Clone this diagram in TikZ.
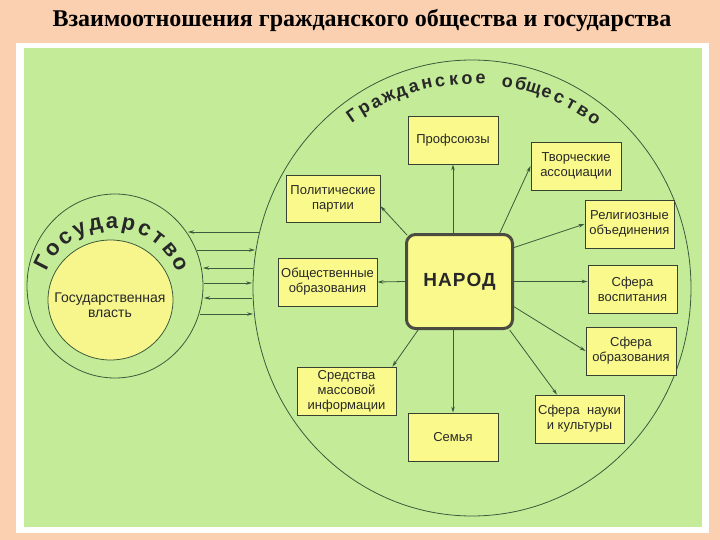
\documentclass[tikz,border=0pt]{standalone}
\usepackage{fontspec}
\setmainfont{Liberation Sans}
\newfontfamily\titlefont{Liberation Serif}
\usetikzlibrary{arrows.meta,calc,shapes.geometric}
\definecolor{peach}{RGB}{250,208,176}
\definecolor{bggreen}{RGB}{196,236,152}
\definecolor{boxyellow}{RGB}{250,250,140}
\definecolor{circyellow}{RGB}{246,246,140}
\definecolor{lineclr}{RGB}{60,90,60}
\definecolor{boxline}{RGB}{55,65,50}
\definecolor{txt}{RGB}{40,40,40}
\definecolor{narodline}{RGB}{75,75,65}
\tikzset{
  box/.style={draw=boxline, line width=0.9pt, fill=boxyellow, minimum width=90pt,
    minimum height=48pt, inner sep=0pt, align=center, text=txt,
    font=\fontsize{13}{15}\selectfont},
  narodbox/.style={draw=narodline, line width=3pt, rounded corners=9pt, fill=boxyellow,
    minimum width=106pt, minimum height=94pt, inner sep=0pt, text=txt,
    font=\bfseries\fontsize{19}{20}\selectfont\addfontfeature{LetterSpace=6}},
  arr/.style={draw=lineclr, line width=0.8pt, -{Stealth[length=6pt,width=3.5pt]}},
  circ/.style={draw=lineclr, line width=0.8pt, ellipse, inner sep=0pt},
  arcA/.style={font=\bfseries\fontsize{18}{18}\selectfont, text=txt, anchor=base, inner sep=0pt},
  arcB/.style={font=\bfseries\fontsize{22}{22}\selectfont, text=txt, anchor=base, inner sep=0pt},
}
\begin{document}
\begin{tikzpicture}[x=1pt,y=-1pt]
\useasboundingbox (0,0) rectangle (720,540);
\fill[peach] (0,0) rectangle (720,540);
\fill[white] (16,43) rectangle (709,533);
\fill[bggreen] (24,48) rectangle (702,527);

\node[font=\titlefont\bfseries\fontsize{24}{30}\selectfont, text=black] (title) at (362,21)
  {Взаимоотношения гражданского общества и государства};

% circles
\node[circ, minimum width=438pt, minimum height=456pt] (society) at (472,288) {};
\node[circ, minimum width=176pt, minimum height=184pt] (state) at (115,286) {};
\node[circ, fill=circyellow, minimum width=125pt, minimum height=120pt] (power) at (110.5,300) {};
\node[align=center, text=txt, font=\fontsize{14}{15}\selectfont] (powertext) at (110,305)
  {Государственная\\власть};

% arc texts
\foreach \ch [count=\i from 0] in {Г,р,а,ж,д,а,н,с,к,о,е}{
  \pgfmathsetmacro\ang{124.7-\i*3.705}
  \node[arcA, rotate=\ang-90] at ({472+204*cos(\ang)},{288-204*sin(\ang)}) {\ch};
}
\foreach \ch [count=\i from 12] in {о,б,щ,е,с,т,в,о}{
  \pgfmathsetmacro\ang{124.7-\i*3.705}
  \node[arcA, rotate=\ang-90] at ({472+204*cos(\ang)},{288-204*sin(\ang)}) {\ch};
}
\foreach \ch [count=\i from 0] in {Г,о,с,у,д,а,р,с,т,в,о}{
  \pgfmathsetmacro\ang{153-\i*12.6}
  \node[arcB, rotate=\ang-90] at ({112+70*cos(\ang)},{298-70*sin(\ang)}) {\ch};
}

% boxes
\node[box] (prof) at (453,140) {Профсоюзы};
\node[box] (tvor) at (576,166) {Творческие\\ассоциации};
\node[box, minimum width=94pt, minimum height=47pt] (pol) at (333,198.5) {Политические\\партии};
\node[box, minimum width=89pt] (rel) at (629.5,224) {Религиозные\\объединения};
\node[box, minimum width=99pt] (obsh) at (327.5,282) {Общественные\\образования};
\node[narodbox] (narod) at (459.5,281.5) {НАРОД};
\node[box, minimum width=89pt] (vosp) at (632.5,289) {Сфера\\воспитания};
\node[box] (obr) at (631,351) {Сфера\\образования};
\node[box, minimum width=99pt] (smi) at (346.5,391) {Средства\\массовой\\информации};
\node[box] (sem) at (453,437) {Семья};
\node[box, minimum width=89pt] (nauk) at (579.5,419) {Сфера\ \ науки\\и культуры};

% arrows from НАРОД
\draw[arr] (narod.north -| prof.south) -- (prof.south);
\draw[arr] ($(narod.north west)!0.87!(narod.north east)$) -- (tvor.west);
\draw[arr] ([shift={(2,2)}]narod.north west) -- ($(pol.north east)!0.66!(pol.south east)$);
\draw[arr] ($(narod.north east)!0.15!(narod.south east)$) -- (rel.west);
\draw[arr] (narod.west) -- (obsh.east);
\draw[arr] (narod.east) -- (narod.east -| vosp.west);
\draw[arr] ($(narod.north east)!0.76!(narod.south east)$) -- (obr.west);
\draw[arr] ($(narod.south west)!0.12!(narod.south east)$) -- ($(smi.north west)!0.96!(smi.north east)$);
\draw[arr] (narod.south -| sem.north) -- (sem.north);
\draw[arr] ($(narod.south west)!0.96!(narod.south east)$) -- ($(nauk.north west)!0.25!(nauk.north east)$);

% arrows between state and society
\coordinate (s1) at (188,232); \coordinate (c1) at (259,232);
\coordinate (s2) at (197,250); \coordinate (c2) at (255,250);
\coordinate (s3) at (203,268); \coordinate (c3) at (253,268);
\coordinate (s4) at (204,283); \coordinate (c4) at (252,283);
\coordinate (s5) at (204,298); \coordinate (c5) at (252,298);
\coordinate (s6) at (200,314); \coordinate (c6) at (253,314);
\draw[arr] (c1) -- (s1);
\draw[arr] (s2) -- (c2);
\draw[arr] (c3) -- (s3);
\draw[arr] (s4) -- (c4);
\draw[arr] (c5) -- (s5);
\draw[arr] (s6) -- (c6);
\end{tikzpicture}
\end{document}
